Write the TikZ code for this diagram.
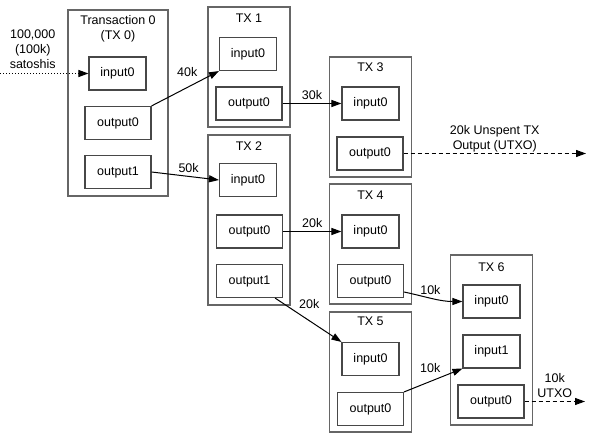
\documentclass[tikz,border=0pt]{standalone}
\usepackage{fontspec}
\setmainfont{Liberation Sans}
\usetikzlibrary{arrows.meta}

\begin{document}
\begin{tikzpicture}[x=1pt,y=-1pt,
    font=\fontsize{12.5}{15}\selectfont,
    >={Triangle[length=10pt,width=7pt]},
    tx/.style={draw=black!60,line width=1.6pt,minimum width=82pt,minimum height=120pt,inner sep=0pt},
    inp/.style={draw=black!72,line width=1.1pt,minimum width=57pt,minimum height=33pt,inner sep=0pt},
    outp/.style={inp,minimum width=66pt},
    head/.style={anchor=north,align=center,inner sep=0pt},
    link/.style={->,line width=1pt},
    amt/.style={inner sep=3pt,align=center}]
\useasboundingbox (0,0) rectangle (589,438);
%\tikzstyle{utxo}=[dashed,line width=1pt]
\begin{scope}
    \node[tx,minimum width=100pt,minimum height=186pt] (T0) at (118,103) {};
    \node[head] (T0h) at ([yshift=-6pt]T0.north) {Transaction 0\\(TX 0)};
    \node[inp] (T0i0) at (117.5,73.5) {input0};
    \node[outp] (T0o0) at (118,123) {output0};
    \node[outp] (T0o1) at (118,172) {output1};
\end{scope}

\begin{scope}
    \node[tx] (T1) at (249,67) {};
    \node[head] (T1h) at ([yshift=-8pt]T1.north) {TX 1};
    \node[inp] (T1i0) at (248,54) {input0};
    \node[outp] (T1o0) at (249,103.5) {output0};
\end{scope}

\begin{scope}
    \node[tx,minimum height=170pt] (T2) at (249,220) {};
    \node[head] (T2h) at ([yshift=-7pt]T2.north) {TX 2};
    \node[inp] (T2i0) at (248,180) {input0};
    \node[outp] (T2o0) at (249.5,231.5) {output0};
    \node[outp] (T2o1) at (249.5,281) {output1};
\end{scope}

\begin{scope}
    \node[tx] (T3) at (370.5,117) {};
    \node[head] (T3h) at ([yshift=-6pt]T3.north) {TX 3};
    \node[inp] (T3i0) at (370.5,103.5) {input0};
    \node[outp] (T3o0) at (370,153.5) {output0};
\end{scope}

\begin{scope}
    \node[tx] (T4) at (370.5,244) {};
    \node[head] (T4h) at ([yshift=-8pt]T4.north) {TX 4};
    \node[inp] (T4i0) at (370.5,231.5) {input0};
    \node[outp] (T4o0) at (370.5,281) {output0};
\end{scope}

\begin{scope}
    \node[tx] (T5) at (370.5,372) {};
    \node[head] (T5h) at ([yshift=-6pt]T5.north) {TX 5};
    \node[inp] (T5i0) at (370.5,359) {input0};
    \node[outp] (T5o0) at (370.5,409) {output0};
\end{scope}

\begin{scope}
    \node[tx,minimum height=170pt] (T6) at (491.5,340) {};
    \node[head] (T6h) at ([yshift=-8pt]T6.north) {TX 6};
    \node[inp] (T6i0) at (491.5,301.5) {input0};
    \node[inp] (T6i1) at (491.5,351.5) {input1};
    \node[outp] (T6o0) at (491,401.5) {output0};
\end{scope}

\coordinate (src) at (0,73.5);
\coordinate (U1) at (586,153.5);
\coordinate (U2) at (585,401.5);

\path [link,dash pattern=on 1pt off 2pt] (src) edge node[amt,above=1pt,pos=0.37] (L100) {100,000\\(100k)\\satoshis} (T0i0.west);
\path [link] (T0o0.north east) edge node[amt,above left,pos=0.73] (L40) {40k} (T1i0.south west);
\path [link] (T0o1.east) edge node[amt,above,pos=0.55] (L50) {50k} (T2i0.west);
\path [link] (T1o0.east) edge node[amt,above] (L30) {30k} (T3i0.west);
\path [link,dash pattern=on 4pt off 3pt] (T3o0.east) edge node[amt,above,inner sep=1pt] (LU1) {20k Unspent TX\\Output (UTXO)} (U1);
\path [link] (T2o0.east) edge node[amt,above] (L20a) {20k} (T4i0.west);
\path [link] ([xshift=-8pt]T2o1.south east) edge node[amt,above right,pos=0.31] (L20b) {20k} (T5i0.north west);
\path [link] ([yshift=-11pt]T4o0.east) edge[out=-12,in=180] node[amt,above,pos=0.45] (L10a) {10k} (T6i0.west);
\path [link] (T5o0.north east) edge node[amt,above left,pos=0.68] (L10b) {10k} (T6i1.south west);
\path [link,dash pattern=on 4pt off 3pt] (T6o0.east) edge node[amt,above] (LU2) {10k\\UTXO} (U2);
\end{tikzpicture}
\end{document}
